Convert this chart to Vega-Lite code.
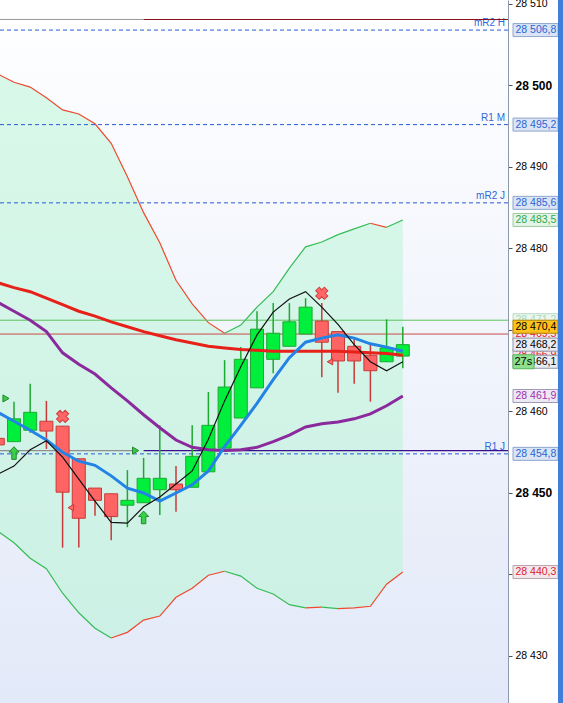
{
  "$schema": "https://vega.github.io/schema/vega-lite/v6.json",
  "width": 508,
  "height": 703,
  "autosize": {"type": "none"},
  "padding": {"left": 0, "top": 0, "right": 55, "bottom": 0},
  "background": "#ffffff",
  "config": {"view": {"stroke": null}, "font": "Liberation Sans", "legend": {"disable": true}, "scale": {"continuousPadding": 0}},
  "resolve": {"scale": {"color": "independent", "fill": "independent", "stroke": "independent", "size": "independent"}, "axis": {"y": "independent", "x": "independent"}},
  "datasets": {
    "candles": [
      {"k": -1, "o": 28456.7, "h": 28457.0, "l": 28455.6, "c": 28455.9, "d": "dn"},
      {"k": 0, "o": 28456.3, "h": 28461.2, "l": 28456.3, "c": 28459.1, "d": "up"},
      {"k": 1, "o": 28457.7, "h": 28463.4, "l": 28457.4, "c": 28459.9, "d": "up"},
      {"k": 2, "o": 28458.8, "h": 28461.3, "l": 28455.4, "c": 28457.6, "d": "dn"},
      {"k": 3, "o": 28458.2, "h": 28458.2, "l": 28443.3, "c": 28450.1, "d": "dn"},
      {"k": 4, "o": 28454.2, "h": 28454.2, "l": 28443.3, "c": 28446.9, "d": "dn"},
      {"k": 5, "o": 28450.6, "h": 28450.6, "l": 28447.2, "c": 28449.1, "d": "dn"},
      {"k": 6, "o": 28449.9, "h": 28449.9, "l": 28444.2, "c": 28447.1, "d": "dn"},
      {"k": 7, "o": 28448.5, "h": 28452.8, "l": 28445.8, "c": 28449.1, "d": "up"},
      {"k": 8, "o": 28448.8, "h": 28454.3, "l": 28448.8, "c": 28451.8, "d": "up"},
      {"k": 9, "o": 28450.4, "h": 28458.3, "l": 28447.3, "c": 28451.8, "d": "up"},
      {"k": 10, "o": 28451.1, "h": 28453.3, "l": 28447.7, "c": 28450.4, "d": "dn"},
      {"k": 11, "o": 28450.7, "h": 28458.3, "l": 28450.7, "c": 28454.5, "d": "up"},
      {"k": 12, "o": 28452.6, "h": 28462.4, "l": 28452.6, "c": 28458.3, "d": "up"},
      {"k": 13, "o": 28455.5, "h": 28466.3, "l": 28455.5, "c": 28463.0, "d": "up"},
      {"k": 14, "o": 28459.2, "h": 28467.9, "l": 28459.2, "c": 28466.4, "d": "up"},
      {"k": 15, "o": 28462.9, "h": 28472.3, "l": 28462.9, "c": 28470.1, "d": "up"},
      {"k": 16, "o": 28466.4, "h": 28473.3, "l": 28464.7, "c": 28469.6, "d": "up"},
      {"k": 17, "o": 28468.0, "h": 28473.3, "l": 28468.0, "c": 28471.0, "d": "up"},
      {"k": 18, "o": 28469.5, "h": 28473.9, "l": 28469.5, "c": 28472.8, "d": "up"},
      {"k": 19, "o": 28471.1, "h": 28473.3, "l": 28464.2, "c": 28468.5, "d": "dn"},
      {"k": 20, "o": 28469.8, "h": 28469.8, "l": 28462.3, "c": 28466.2, "d": "dn"},
      {"k": 21, "o": 28468.0, "h": 28469.1, "l": 28463.4, "c": 28466.2, "d": "dn"},
      {"k": 22, "o": 28466.9, "h": 28468.2, "l": 28461.2, "c": 28465.0, "d": "dn"},
      {"k": 23, "o": 28466.1, "h": 28471.3, "l": 28466.1, "c": 28467.8, "d": "up"},
      {"k": 24, "o": 28466.8, "h": 28470.4, "l": 28465.3, "c": 28468.2, "d": "up"}
    ],
    "ma": [
      {"k": -1, "red": 28475.8, "pur": 28473.4, "blu": 28459.9, "blk": 28452.3},
      {"k": 0, "red": 28475.2, "pur": 28472.3, "blu": 28458.8, "blk": 28453.3},
      {"k": 1, "red": 28474.7, "pur": 28471.2, "blu": 28457.7, "blk": 28455.3},
      {"k": 2, "red": 28473.9, "pur": 28469.8, "blu": 28456.5, "blk": 28456.4},
      {"k": 3, "red": 28473.1, "pur": 28467.2, "blu": 28455.0, "blk": 28454.4},
      {"k": 4, "red": 28472.3, "pur": 28465.8, "blu": 28453.9, "blk": 28451.7},
      {"k": 5, "red": 28471.7, "pur": 28464.6, "blu": 28453.4, "blk": 28449.0},
      {"k": 6, "red": 28471.0, "pur": 28462.9, "blu": 28452.1, "blk": 28446.4},
      {"k": 7, "red": 28470.4, "pur": 28461.3, "blu": 28450.6, "blk": 28446.3},
      {"k": 8, "red": 28469.8, "pur": 28459.6, "blu": 28450.0, "blk": 28448.3},
      {"k": 9, "red": 28469.3, "pur": 28458.0, "blu": 28449.0, "blk": 28449.5},
      {"k": 10, "red": 28468.8, "pur": 28456.5, "blu": 28450.0, "blk": 28451.1},
      {"k": 11, "red": 28468.4, "pur": 28455.6, "blu": 28451.0, "blk": 28452.7},
      {"k": 12, "red": 28468.0, "pur": 28455.3, "blu": 28452.7, "blk": 28456.6},
      {"k": 13, "red": 28467.8, "pur": 28455.2, "blu": 28455.7, "blk": 28461.3},
      {"k": 14, "red": 28467.6, "pur": 28455.3, "blu": 28458.3, "blk": 28465.5},
      {"k": 15, "red": 28467.5, "pur": 28455.6, "blu": 28461.0, "blk": 28469.4},
      {"k": 16, "red": 28467.4, "pur": 28456.3, "blu": 28463.9, "blk": 28472.2},
      {"k": 17, "red": 28467.4, "pur": 28457.1, "blu": 28466.6, "blk": 28473.8},
      {"k": 18, "red": 28467.4, "pur": 28458.1, "blu": 28468.5, "blk": 28474.7},
      {"k": 19, "red": 28467.4, "pur": 28458.5, "blu": 28469.0, "blk": 28472.8},
      {"k": 20, "red": 28467.4, "pur": 28458.7, "blu": 28469.4, "blk": 28470.7},
      {"k": 21, "red": 28467.3, "pur": 28459.1, "blu": 28469.0, "blk": 28468.2},
      {"k": 22, "red": 28467.2, "pur": 28459.7, "blu": 28468.3, "blk": 28466.1},
      {"k": 23, "red": 28467.1, "pur": 28460.7, "blu": 28467.9, "blk": 28465.0},
      {"k": 24, "red": 28466.9, "pur": 28461.9, "blu": 28467.4, "blk": 28466.1}
    ],
    "band": [
      {"k": -1, "up": 28501.4, "lo": 28445.3}, {"k": 0, "up": 28500.4, "lo": 28443.9},
      {"k": 1, "up": 28499.8, "lo": 28442.0}, {"k": 2, "up": 28498.5, "lo": 28440.7},
      {"k": 3, "up": 28497.0, "lo": 28437.7}, {"k": 4, "up": 28496.5, "lo": 28435.3},
      {"k": 5, "up": 28495.3, "lo": 28433.4}, {"k": 6, "up": 28492.9, "lo": 28432.2},
      {"k": 7, "up": 28488.8, "lo": 28432.9}, {"k": 8, "up": 28484.4, "lo": 28434.4},
      {"k": 9, "up": 28480.7, "lo": 28434.9}, {"k": 10, "up": 28476.1, "lo": 28437.2},
      {"k": 11, "up": 28473.2, "lo": 28438.3}, {"k": 12, "up": 28470.9, "lo": 28439.9},
      {"k": 13, "up": 28469.6, "lo": 28440.4}, {"k": 14, "up": 28470.6, "lo": 28439.8},
      {"k": 15, "up": 28472.8, "lo": 28438.3}, {"k": 16, "up": 28474.7, "lo": 28437.6},
      {"k": 17, "up": 28477.6, "lo": 28436.3}, {"k": 18, "up": 28480.2, "lo": 28435.9},
      {"k": 19, "up": 28480.8, "lo": 28436.0}, {"k": 20, "up": 28481.7, "lo": 28435.8},
      {"k": 21, "up": 28482.4, "lo": 28435.9}, {"k": 22, "up": 28483.1, "lo": 28436.1},
      {"k": 23, "up": 28482.6, "lo": 28438.8}, {"k": 24, "up": 28483.5, "lo": 28440.3}
    ],
    "bseg": [
      {"k": -1, "v": 28501.4, "g": "U1", "c": "r"}, {"k": 0, "v": 28500.4, "g": "U1", "c": "r"},
      {"k": 1, "v": 28499.8, "g": "U1", "c": "r"}, {"k": 2, "v": 28498.5, "g": "U1", "c": "r"},
      {"k": 3, "v": 28497.0, "g": "U1", "c": "r"}, {"k": 4, "v": 28496.5, "g": "U1", "c": "r"},
      {"k": 5, "v": 28495.3, "g": "U1", "c": "r"}, {"k": 6, "v": 28492.9, "g": "U1", "c": "r"},
      {"k": 7, "v": 28488.8, "g": "U1", "c": "r"}, {"k": 8, "v": 28484.4, "g": "U1", "c": "r"},
      {"k": 9, "v": 28480.7, "g": "U1", "c": "r"}, {"k": 10, "v": 28476.1, "g": "U1", "c": "r"},
      {"k": 11, "v": 28473.2, "g": "U1", "c": "r"}, {"k": 12, "v": 28470.9, "g": "U1", "c": "r"},
      {"k": 13, "v": 28469.6, "g": "U1", "c": "r"},
      {"k": 13, "v": 28469.6, "g": "U2", "c": "g"}, {"k": 14, "v": 28470.6, "g": "U2", "c": "g"},
      {"k": 15, "v": 28472.8, "g": "U2", "c": "g"}, {"k": 16, "v": 28474.7, "g": "U2", "c": "g"},
      {"k": 17, "v": 28477.6, "g": "U2", "c": "g"}, {"k": 18, "v": 28480.2, "g": "U2", "c": "g"},
      {"k": 19, "v": 28480.8, "g": "U2", "c": "g"}, {"k": 20, "v": 28481.7, "g": "U2", "c": "g"},
      {"k": 21, "v": 28482.4, "g": "U2", "c": "g"}, {"k": 22, "v": 28483.1, "g": "U2", "c": "g"},
      {"k": 22, "v": 28483.1, "g": "U3", "c": "r"}, {"k": 23, "v": 28482.6, "g": "U3", "c": "r"},
      {"k": 23, "v": 28482.6, "g": "U4", "c": "g"}, {"k": 24, "v": 28483.5, "g": "U4", "c": "g"},
      {"k": -1, "v": 28445.3, "g": "L1", "c": "g"}, {"k": 0, "v": 28443.9, "g": "L1", "c": "g"},
      {"k": 1, "v": 28442.0, "g": "L1", "c": "g"}, {"k": 2, "v": 28440.7, "g": "L1", "c": "g"},
      {"k": 3, "v": 28437.7, "g": "L1", "c": "g"}, {"k": 4, "v": 28435.3, "g": "L1", "c": "g"},
      {"k": 5, "v": 28433.4, "g": "L1", "c": "g"}, {"k": 6, "v": 28432.2, "g": "L1", "c": "g"},
      {"k": 6, "v": 28432.2, "g": "L2", "c": "r"}, {"k": 7, "v": 28432.9, "g": "L2", "c": "r"},
      {"k": 8, "v": 28434.4, "g": "L2", "c": "r"}, {"k": 9, "v": 28434.9, "g": "L2", "c": "r"},
      {"k": 10, "v": 28437.2, "g": "L2", "c": "r"}, {"k": 11, "v": 28438.3, "g": "L2", "c": "r"},
      {"k": 12, "v": 28439.9, "g": "L2", "c": "r"}, {"k": 13, "v": 28440.4, "g": "L2", "c": "r"},
      {"k": 13, "v": 28440.4, "g": "L3", "c": "g"}, {"k": 14, "v": 28439.8, "g": "L3", "c": "g"},
      {"k": 15, "v": 28438.3, "g": "L3", "c": "g"}, {"k": 16, "v": 28437.6, "g": "L3", "c": "g"},
      {"k": 17, "v": 28436.3, "g": "L3", "c": "g"}, {"k": 18, "v": 28435.9, "g": "L3", "c": "g"},
      {"k": 18, "v": 28435.9, "g": "L4", "c": "r"}, {"k": 19, "v": 28436.0, "g": "L4", "c": "r"},
      {"k": 19, "v": 28436.0, "g": "L5", "c": "g"}, {"k": 20, "v": 28435.8, "g": "L5", "c": "g"},
      {"k": 20, "v": 28435.8, "g": "L6", "c": "r"}, {"k": 21, "v": 28435.9, "g": "L6", "c": "r"},
      {"k": 22, "v": 28436.1, "g": "L6", "c": "r"}, {"k": 23, "v": 28438.8, "g": "L6", "c": "r"},
      {"k": 24, "v": 28440.3, "g": "L6", "c": "r"}
    ],
    "piv": [
      {"t": "mR2 H", "v": 28506.8},
      {"t": "R1 M", "v": 28495.2},
      {"t": "mR2 J", "v": 28485.6},
      {"t": "R1 J", "v": 28454.8}
    ],
    "hl": [
      {"n": "bb", "v": 28471.2},
      {"n": "rd", "v": 28469.5}
    ],
    "lv": [
      {"n": "gray1", "v": 28508.1, "k0": -1, "k1": 8},
      {"n": "dred", "v": 28508.1, "k0": 8, "k1": 30.494},
      {"n": "gray2", "v": 28455.2, "k0": -1, "k1": 7.4},
      {"n": "navy", "v": 28455.2, "k0": 8, "k1": 30.494}
    ],
    "mk": [
      {"k": 0, "v": 28454.9, "m": "ar"},
      {"k": 8, "v": 28447.0, "m": "ar"},
      {"k": 0, "v": 28461.6, "m": "tr"},
      {"k": 8, "v": 28455.2, "m": "tr"},
      {"k": 4, "v": 28448.2, "m": "tl"},
      {"k": 20, "v": 28466.1, "m": "tl"},
      {"k": 3, "v": 28459.4, "m": "x"},
      {"k": 19, "v": 28474.5, "m": "x"}
    ],
    "tags": [
      {"v": 28471.2, "t": "28 471,2", "cat": "bbf", "z": 0},
      {"v": 28469.5, "t": "28 469,5", "cat": "red", "z": 0},
      {"v": 28466.9, "t": "28 466,9", "cat": "red", "z": 0},
      {"v": 28506.8, "t": "28 506,8", "cat": "piv", "z": 1},
      {"v": 28495.2, "t": "28 495,2", "cat": "piv", "z": 1},
      {"v": 28485.6, "t": "28 485,6", "cat": "piv", "z": 1},
      {"v": 28483.5, "t": "28 483,5", "cat": "bbu", "z": 1},
      {"v": 28470.4, "t": "28 470,4", "cat": "prc", "z": 1},
      {"v": 28468.2, "t": "28 468,2", "cat": "cls", "z": 1},
      {"v": 28466.1, "t": "28 466,1", "cat": "cls", "z": 1},
      {"v": 28461.9, "t": "28 461,9", "cat": "pur", "z": 1},
      {"v": 28454.8, "t": "28 454,8", "cat": "piv", "z": 1},
      {"v": 28440.3, "t": "28 440,3", "cat": "red", "z": 1}
    ],
    "cd": [{"t": "27s", "v": 28466.1}]
  },
  "layer": [
    {
      "data": {"values": [{}]},
      "mark": {"type": "rect", "fill": {"gradient": "linear", "x1": 0, "y1": 0, "x2": 0, "y2": 1, "stops": [{"offset": 0, "color": "#ffffff"}, {"offset": 1, "color": "#e2e9f8"}]}},
      "encoding": {"x": {"value": 0}, "x2": {"value": "width"}, "y": {"value": 0}, "y2": {"value": "height"}}
    },
    {
      "data": {"name": "band"},
      "mark": {"type": "area", "color": "#b6f5d4", "opacity": 0.5},
      "encoding": {
        "x": {"field": "k", "type": "quantitative", "scale": {"domain": [-0.864, 30.494], "nice": false, "zero": false, "padding": 0}, "axis": null},
        "y": {"field": "up", "type": "quantitative", "scale": {"domain": [28424.23, 28510.49], "nice": false, "zero": false}, "axis": null},
        "y2": {"field": "lo"}
      }
    },
    {
      "data": {"name": "bseg"},
      "mark": {"type": "line", "strokeWidth": 1.2},
      "encoding": {
        "x": {"field": "k", "type": "quantitative", "scale": {"domain": [-0.864, 30.494], "nice": false, "zero": false, "padding": 0}, "axis": null},
        "y": {"field": "v", "type": "quantitative", "scale": {"domain": [28424.23, 28510.49], "nice": false, "zero": false}, "axis": null},
        "detail": {"field": "g"},
        "color": {"field": "c", "type": "nominal", "scale": {"domain": ["g", "r"], "range": ["#35bd55", "#ee4a2e"]}}
      }
    },
    {
      "data": {"name": "piv"},
      "mark": {"type": "rule", "color": "#2a5ad4", "strokeWidth": 1, "strokeDash": [4, 3]},
      "encoding": {
        "x": {"value": 0}, "x2": {"value": "width"},
        "y": {"field": "v", "type": "quantitative", "scale": {"domain": [28424.23, 28510.49], "nice": false, "zero": false}, "axis": null}
      }
    },
    {
      "data": {"name": "hl"},
      "mark": {"type": "rule", "strokeWidth": 1},
      "encoding": {
        "x": {"value": 0}, "x2": {"value": "width"},
        "y": {"field": "v", "type": "quantitative", "scale": {"domain": [28424.23, 28510.49], "nice": false, "zero": false}, "axis": null},
        "color": {"field": "n", "type": "nominal", "scale": {"domain": ["bb", "rd"], "range": ["#5cc25c", "#cc4a4a"]}}
      }
    },
    {
      "data": {"name": "piv"},
      "mark": {"type": "text", "align": "right", "baseline": "alphabetic", "dx": -3, "dy": -4, "fontSize": 10, "color": "#2f68d8"},
      "encoding": {
        "x": {"value": "width"},
        "y": {"field": "v", "type": "quantitative", "scale": {"domain": [28424.23, 28510.49], "nice": false, "zero": false}, "axis": null},
        "text": {"field": "t"}
      }
    },
    {
      "data": {"name": "lv"},
      "mark": {"type": "rule"},
      "encoding": {
        "x": {"field": "k0", "type": "quantitative", "scale": {"domain": [-0.864, 30.494], "nice": false, "zero": false, "padding": 0}, "axis": null},
        "x2": {"field": "k1"},
        "y": {"field": "v", "type": "quantitative", "scale": {"domain": [28424.23, 28510.49], "nice": false, "zero": false}, "axis": null},
        "color": {"field": "n", "type": "nominal", "scale": {"domain": ["gray1", "dred", "gray2", "navy"], "range": ["#9a9a9a", "#8a1020", "#8f8f8f", "#3b0f8c"]}},
        "size": {"field": "n", "type": "nominal", "scale": {"domain": ["gray1", "dred", "gray2", "navy"], "range": [1, 1.2, 2.5, 2.5]}}
      }
    },
    {
      "data": {"name": "candles"},
      "mark": {"type": "rule", "strokeWidth": 1.5},
      "encoding": {
        "x": {"field": "k", "type": "quantitative", "scale": {"domain": [-0.864, 30.494], "nice": false, "zero": false, "padding": 0}, "axis": null},
        "y": {
          "field": "l", "type": "quantitative",
          "scale": {"domain": [28424.23, 28510.49], "nice": false, "zero": false},
          "axis": {
            "orient": "right", "title": null, "grid": false,
            "values": [28430, 28440, 28450, 28460, 28470, 28480, 28490, 28500, 28510],
            "labelExpr": "replace(format(datum.value, ',d'), ',', ' ')",
            "labelFontWeight": {"condition": {"test": "datum.value % 50 === 0", "value": "bold"}, "value": "normal"},
            "labelFontSize": {"condition": {"test": "datum.value % 50 === 0", "value": 12}, "value": 10.5},
            "labelColor": "#000000", "labelPadding": 3, "labelBound": false, "labelOverlap": false, "labelFlush": false,
            "tickSize": 4, "tickColor": "#555555", "domainColor": "#8a98b0", "domainWidth": 1
          }
        },
        "y2": {"field": "h"},
        "color": {"field": "d", "type": "nominal", "scale": {"domain": ["up", "dn"], "range": ["#1fa832", "#c83a3a"]}}
      }
    },
    {
      "data": {"name": "candles"},
      "mark": {"type": "bar", "size": 13, "strokeWidth": 1},
      "encoding": {
        "x": {"field": "k", "type": "quantitative", "scale": {"domain": [-0.864, 30.494], "nice": false, "zero": false, "padding": 0}, "axis": null},
        "y": {"field": "o", "type": "quantitative", "scale": {"domain": [28424.23, 28510.49], "nice": false, "zero": false}, "axis": null},
        "y2": {"field": "c"},
        "fill": {"field": "d", "type": "nominal", "scale": {"domain": ["up", "dn"], "range": ["#00ef3c", "#ff6464"]}},
        "stroke": {"field": "d", "type": "nominal", "scale": {"domain": ["up", "dn"], "range": ["#1fa832", "#c83a3a"]}}
      }
    },
    {
      "data": {"name": "ma"},
      "mark": {"type": "line", "color": "#8a2a9c", "strokeWidth": 3},
      "encoding": {
        "x": {"field": "k", "type": "quantitative", "scale": {"domain": [-0.864, 30.494], "nice": false, "zero": false, "padding": 0}, "axis": null},
        "y": {"field": "pur", "type": "quantitative", "scale": {"domain": [28424.23, 28510.49], "nice": false, "zero": false}, "axis": null}
      }
    },
    {
      "data": {"name": "ma"},
      "mark": {"type": "line", "color": "#e8201a", "strokeWidth": 3},
      "encoding": {
        "x": {"field": "k", "type": "quantitative", "scale": {"domain": [-0.864, 30.494], "nice": false, "zero": false, "padding": 0}, "axis": null},
        "y": {"field": "red", "type": "quantitative", "scale": {"domain": [28424.23, 28510.49], "nice": false, "zero": false}, "axis": null}
      }
    },
    {
      "data": {"name": "ma"},
      "mark": {"type": "line", "color": "#2383e6", "strokeWidth": 3},
      "encoding": {
        "x": {"field": "k", "type": "quantitative", "scale": {"domain": [-0.864, 30.494], "nice": false, "zero": false, "padding": 0}, "axis": null},
        "y": {"field": "blu", "type": "quantitative", "scale": {"domain": [28424.23, 28510.49], "nice": false, "zero": false}, "axis": null}
      }
    },
    {
      "data": {"name": "ma"},
      "mark": {"type": "line", "color": "#111111", "strokeWidth": 1.2},
      "encoding": {
        "x": {"field": "k", "type": "quantitative", "scale": {"domain": [-0.864, 30.494], "nice": false, "zero": false, "padding": 0}, "axis": null},
        "y": {"field": "blk", "type": "quantitative", "scale": {"domain": [28424.23, 28510.49], "nice": false, "zero": false}, "axis": null}
      }
    },
    {
      "data": {"name": "mk"},
      "transform": [{"filter": "datum.m === 'ar'"}],
      "mark": {"type": "point", "shape": "M0,-1L0.8,-0.15L0.35,-0.15L0.35,1L-0.35,1L-0.35,-0.15L-0.8,-0.15Z", "size": 160, "filled": true, "opacity": 1, "fill": "#3ccf4a", "stroke": "#1e8a2a", "strokeWidth": 1},
      "encoding": {
        "x": {"field": "k", "type": "quantitative", "scale": {"domain": [-0.864, 30.494], "nice": false, "zero": false, "padding": 0}, "axis": null},
        "y": {"field": "v", "type": "quantitative", "scale": {"domain": [28424.23, 28510.49], "nice": false, "zero": false}, "axis": null}
      }
    },
    {
      "data": {"name": "mk"},
      "transform": [{"filter": "datum.m === 'tr'"}],
      "mark": {"type": "point", "shape": "triangle-right", "size": 50, "filled": true, "opacity": 1, "fill": "#3cc84a", "stroke": "#1e8a2a", "strokeWidth": 1, "xOffset": -8},
      "encoding": {
        "x": {"field": "k", "type": "quantitative", "scale": {"domain": [-0.864, 30.494], "nice": false, "zero": false, "padding": 0}, "axis": null},
        "y": {"field": "v", "type": "quantitative", "scale": {"domain": [28424.23, 28510.49], "nice": false, "zero": false}, "axis": null}
      }
    },
    {
      "data": {"name": "mk"},
      "transform": [{"filter": "datum.m === 'tl'"}],
      "mark": {"type": "point", "shape": "triangle-left", "size": 40, "filled": true, "opacity": 1, "fill": "#ff6a6a", "stroke": "#c83a3a", "strokeWidth": 1, "xOffset": -8},
      "encoding": {
        "x": {"field": "k", "type": "quantitative", "scale": {"domain": [-0.864, 30.494], "nice": false, "zero": false, "padding": 0}, "axis": null},
        "y": {"field": "v", "type": "quantitative", "scale": {"domain": [28424.23, 28510.49], "nice": false, "zero": false}, "axis": null}
      }
    },
    {
      "data": {"name": "mk"},
      "transform": [{"filter": "datum.m === 'x'"}],
      "mark": {"type": "point", "shape": "cross", "angle": 45, "size": 150, "filled": true, "opacity": 1, "fill": "#ff6666", "stroke": "#d04040", "strokeWidth": 1},
      "encoding": {
        "x": {"field": "k", "type": "quantitative", "scale": {"domain": [-0.864, 30.494], "nice": false, "zero": false, "padding": 0}, "axis": null},
        "y": {"field": "v", "type": "quantitative", "scale": {"domain": [28424.23, 28510.49], "nice": false, "zero": false}, "axis": null}
      }
    },
    {
      "data": {"name": "tags"},
      "transform": [{"filter": "datum.z === 0"}],
      "mark": {"type": "point", "shape": "M0.5,-0.65L5,-0.65L5,0.65L0.5,0.65Z", "size": 400, "filled": true, "opacity": 1, "strokeWidth": 1},
      "encoding": {
        "x": {"value": "width"},
        "y": {"field": "v", "type": "quantitative", "scale": {"domain": [28424.23, 28510.49], "nice": false, "zero": false}, "axis": null},
        "fill": {"field": "cat", "type": "nominal", "scale": {"domain": ["piv", "bbu", "bbf", "prc", "cls", "red", "pur"], "range": ["#dae4f4", "#e4f4e6", "#eef6f0", "#ffc21a", "#e8ebf2", "#f2e8ec", "#ece8f4"]}},
        "stroke": {"field": "cat", "type": "nominal", "scale": {"domain": ["piv", "bbu", "bbf", "prc", "cls", "red", "pur"], "range": ["#8ea6cc", "#9ccaa4", "#bcd8c4", "#b38600", "#8e98aa", "#b8a4ac", "#a098b8"]}}
      }
    },
    {
      "data": {"name": "tags"},
      "transform": [{"filter": "datum.z === 0"}],
      "mark": {"type": "text", "align": "left", "baseline": "middle", "dx": 7.5, "fontSize": 10.5},
      "encoding": {
        "x": {"value": "width"},
        "y": {"field": "v", "type": "quantitative", "scale": {"domain": [28424.23, 28510.49], "nice": false, "zero": false}, "axis": null},
        "text": {"field": "t"},
        "color": {"field": "cat", "type": "nominal", "scale": {"domain": ["piv", "bbu", "bbf", "prc", "cls", "red", "pur"], "range": ["#2a66d4", "#2eaa4a", "#a8dcb4", "#000000", "#000000", "#e0202c", "#a030b0"]}}
      }
    },
    {
      "data": {"name": "tags"},
      "transform": [{"filter": "datum.z === 1"}],
      "mark": {"type": "point", "shape": "M0.5,-0.65L5,-0.65L5,0.65L0.5,0.65Z", "size": 400, "filled": true, "opacity": 1, "strokeWidth": 1},
      "encoding": {
        "x": {"value": "width"},
        "y": {"field": "v", "type": "quantitative", "scale": {"domain": [28424.23, 28510.49], "nice": false, "zero": false}, "axis": null},
        "fill": {"field": "cat", "type": "nominal", "scale": {"domain": ["piv", "bbu", "bbf", "prc", "cls", "red", "pur"], "range": ["#dae4f4", "#e4f4e6", "#eef6f0", "#ffc21a", "#e8ebf2", "#f2e8ec", "#ece8f4"]}},
        "stroke": {"field": "cat", "type": "nominal", "scale": {"domain": ["piv", "bbu", "bbf", "prc", "cls", "red", "pur"], "range": ["#8ea6cc", "#9ccaa4", "#bcd8c4", "#b38600", "#8e98aa", "#b8a4ac", "#a098b8"]}}
      }
    },
    {
      "data": {"name": "tags"},
      "transform": [{"filter": "datum.z === 1"}],
      "mark": {"type": "text", "align": "left", "baseline": "middle", "dx": 7.5, "fontSize": 10.5},
      "encoding": {
        "x": {"value": "width"},
        "y": {"field": "v", "type": "quantitative", "scale": {"domain": [28424.23, 28510.49], "nice": false, "zero": false}, "axis": null},
        "text": {"field": "t"},
        "color": {"field": "cat", "type": "nominal", "scale": {"domain": ["piv", "bbu", "bbf", "prc", "cls", "red", "pur"], "range": ["#2a66d4", "#2eaa4a", "#a8dcb4", "#000000", "#000000", "#e0202c", "#a030b0"]}}
      }
    },
    {
      "data": {"name": "cd"},
      "mark": {"type": "point", "shape": "M0.5,-0.7L2.6,-0.7L2.6,0.7L0.5,0.7Z", "size": 400, "filled": true, "opacity": 1, "fill": "#8ee08e", "stroke": "#5cb85c", "strokeWidth": 1},
      "encoding": {
        "x": {"value": "width"},
        "y": {"field": "v", "type": "quantitative", "scale": {"domain": [28424.23, 28510.49], "nice": false, "zero": false}, "axis": null}
      }
    },
    {
      "data": {"name": "cd"},
      "mark": {"type": "text", "align": "left", "baseline": "middle", "dx": 6.5, "fontSize": 11, "color": "#000000"},
      "encoding": {
        "x": {"value": "width"},
        "y": {"field": "v", "type": "quantitative", "scale": {"domain": [28424.23, 28510.49], "nice": false, "zero": false}, "axis": null},
        "text": {"field": "t"}
      }
    },
    {
      "data": {"values": [{}]},
      "mark": {"type": "rule", "color": "#3f7fd9", "strokeWidth": 5, "xOffset": 52.5},
      "encoding": {"x": {"value": "width"}, "y": {"value": 0}, "y2": {"value": "height"}}
    }
  ]
}
